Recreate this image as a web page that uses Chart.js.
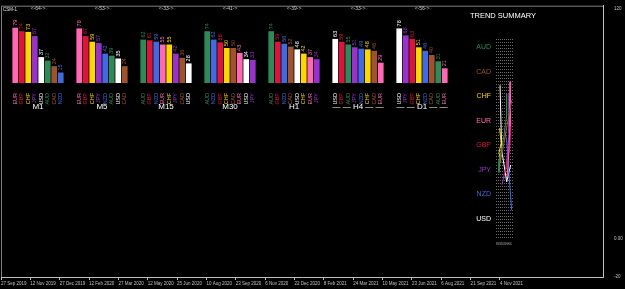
<!DOCTYPE html>
<html>
<head>
<meta charset="utf-8">
<script src="https://cdn.jsdelivr.net/npm/chart.js@4.4.0/dist/chart.umd.min.js"></script>
<style>
html, body { margin:0; padding:0; background:#000; overflow:hidden; }
#wrap { position:relative; width:625px; height:289px; background:#000; }
#wrap canvas { position:absolute; }
</style>
</head>
<body>
<div id="wrap">
  <canvas id="main" width="625" height="289" style="left:0;top:0"></canvas>
  <canvas id="trend" width="90" height="240" style="left:458px;top:6px"></canvas>
</div>
<script>
// date axis + price axis of the window
var dates = ['27 Sep 2019','12 Nov 2019','27 Dec 2019','12 Feb 2020','27 Mar 2020','12 May 2020','25 Jun 2020','10 Aug 2020','23 Sep 2020','6 Nov 2020','22 Dec 2020','8 Feb 2021','24 Mar 2021','10 May 2021','23 Jun 2021','6 Aug 2021','21 Sep 2021','4 Nov 2021']
var priceTicks = [120, 0, -20]
var priceTickText = ['120', '0.00', '-20']

// one bar group per timeframe
var frames = ['M1','M5','M15','M30','H1','— — H4 — —','— — D1 — —']
var counts = ['<-64->','<-53->','<-33->','<-41->','<-39->','<-33->','<-56->']

var m1Cur = ['EUR','GBP','CHF','JPY','USD','AUD','CAD','NZD']
var m1Val = [79, 74, 73, 67, 37, 32, 24, 15]
var m5Cur = ['EUR','GBP','CHF','JPY','NZD','AUD','USD','CAD']
var m5Val = [78, 67, 59, 57, 42, 39, 35, 24]
var m15Cur = ['AUD','GBP','NZD','EUR','CHF','JPY','CAD','USD']
var m15Val = [62, 61, 59, 55, 55, 42, 36, 28]
var m30Cur = ['AUD','NZD','GBP','CHF','CAD','EUR','USD','JPY']
var m30Val = [74, 62, 58, 50, 50, 43, 34, 33]
var h1Cur = ['AUD','GBP','NZD','CAD','USD','CHF','EUR','JPY']
var h1Val = [74, 59, 56, 52, 48, 42, 37, 34]
var h4Cur = ['USD','GBP','AUD','JPY','NZD','CHF','CAD','EUR']
var h4Val = [63, 59, 55, 51, 49, 48, 46, 29]
var d1Cur = ['USD','JPY','GBP','CHF','NZD','CAD','AUD','EUR']
var d1Val = [78, 68, 63, 51, 46, 40, 31, 21]

// trend summary lines [x, y]
var trendCur = ['AUD','CAD','CHF','EUR','GBP','JPY','NZD','USD']
var trendAUD = [[5.35,1.9],[5.3,2.8],[4,3.6],[1.7,4.6],[1.5,5.1]]
var trendCAD = [[7.85,2.16],[5.5,3.2],[3.65,4.06],[1.15,5.07]]
var trendCHF = [[1.8,3.3],[2.6,3.9],[1.5,4.3],[2.5,4.7]]
var trendEUR = [[7.35,1.41],[7,3.2],[6.2,4.6],[5.5,5.3]]
var trendGBP = [[7.5,3],[7,4],[5.5,4.8],[4,5.2]]
var trendJPY = [[6.8,1.9],[6.5,3.5],[5.2,4.8],[3,5.6]]
var trendNZD = [[4,3.3],[5.35,3.78],[6.5,5.2],[7.85,6.63]]
var trendUSD = [[2,1.55],[2.85,4.19],[5.35,5.48],[7.35,4.8]]

var colors = {EUR:'#ff69b4', GBP:'#dc143c', CHF:'#ffd700', JPY:'#9932cc', USD:'#ffffff', AUD:'#2e8b57', CAD:'#a0522d', NZD:'#4169e1'}
var fam = '"Liberation Sans", Arial, sans-serif'
Chart.defaults.font.family = fam

var wrap = document.getElementById('wrap')

// frame + window label
var frame = {
  id: 'frame',
  afterDraw: function (chart) {
    var a = chart.chartArea
    var ctx = chart.ctx
    ctx.save()
    ctx.strokeStyle = '#808080'
    ctx.lineWidth = 1
    ctx.beginPath()
    ctx.moveTo(a.left + 0.5, a.bottom)
    ctx.lineTo(a.left + 0.5, a.top + 0.5)
    ctx.lineTo(a.right, a.top + 0.5)
    ctx.stroke()
    ctx.fillStyle = '#e0e0e0'
    ctx.font = '4.5px ' + fam
    ctx.textBaseline = 'top'
    ctx.fillText('CSM-1', a.left + 2, a.top + 2)
    ctx.restore()
  }
}

new Chart(document.getElementById('main'), {
  type: 'line',
  data: { datasets: [] },
  options: {
    responsive: false,
    animation: false,
    events: [],
    layout: { padding: { left: 1, top: 1, right: 0, bottom: 0 } },
    plugins: { legend: { display: false }, tooltip: { enabled: false } },
    scales: {
      x: {
        type: 'linear', position: 'bottom', min: 0, max: 20.51,
        afterBuildTicks: function (s) { s.ticks = dates.map(function (d, k) { return { value: k } }) },
        ticks: { callback: function (v) { return dates[v] }, color: '#c0c0c0', font: { size: 4.5 }, align: 'start', maxRotation: 0, autoSkip: false, padding: 1 },
        grid: { drawOnChartArea: false, tickLength: 3, color: '#c0c0c0' },
        border: { color: '#c0c0c0' },
        afterFit: function (s) { s.height = 12; s.paddingLeft = 0; s.paddingRight = 0 }
      },
      y: {
        type: 'linear', position: 'right', min: -20, max: 121.5,
        afterBuildTicks: function (s) { s.ticks = priceTicks.map(function (v) { return { value: v } }) },
        ticks: { callback: function (v, k) { return priceTickText[k] }, color: '#c0c0c0', font: { size: 4.5 }, padding: 3 },
        grid: { display: false },
        border: { display: true, color: '#c0c0c0' },
        afterFit: function (s) { s.width = 22 }
      }
    }
  },
  plugins: [frame]
})

// value text on top of every bar
var barValues = {
  id: 'barValues',
  afterDatasetsDraw: function (chart) {
    var ctx = chart.ctx
    var meta = chart.getDatasetMeta(0)
    ctx.save()
    ctx.font = '5.5px ' + fam
    ctx.textAlign = 'left'
    ctx.textBaseline = 'middle'
    meta.data.forEach(function (bar, k) {
      ctx.save()
      ctx.translate(bar.x, bar.y - 2)
      ctx.rotate(-Math.PI / 2)
      ctx.fillStyle = colors[chart.data.labels[k]]
      ctx.fillText(chart.data.datasets[0].data[k], 0, 0)
      ctx.restore()
    })
    ctx.restore()
  }
}

var groupLeft = [12, 76, 140, 204, 268, 332, 396]

function group(i, cur, val) {
  var cv = document.createElement('canvas')
  cv.width = 52
  cv.height = 112
  cv.style.left = groupLeft[i] + 'px'
  cv.style.top = '0px'
  wrap.appendChild(cv)
  new Chart(cv, {
    type: 'bar',
    data: {
      labels: cur,
      datasets: [{ data: val, backgroundColor: cur.map(function (c) { return colors[c] }), barPercentage: 0.88, categoryPercentage: 1 }]
    },
    options: {
      responsive: false,
      animation: false,
      events: [],
      layout: { padding: 0 },
      plugins: {
        legend: { display: false },
        tooltip: { enabled: false },
        title: { display: true, text: counts[i], color: '#c8c8c8', font: { size: 5, weight: 'normal' }, padding: { top: 6, bottom: 1 } }
      },
      scales: {
        x: {
          grid: { display: false },
          border: { display: false },
          ticks: { color: function (c) { return colors[cur[c.index]] }, font: { size: 5.5 }, minRotation: 90, maxRotation: 90, autoSkip: false, padding: 2 },
          title: { display: true, text: frames[i], color: '#ffffff', font: { size: 8 }, padding: 0 },
          afterFit: function (s) { s.height = 29; s.paddingLeft = 0; s.paddingRight = 0 }
        },
        y: { display: false, min: 0, max: 100 }
      }
    },
    plugins: [barValues]
  })
}

group(0, m1Cur, m1Val)
group(1, m5Cur, m5Val)
group(2, m15Cur, m15Val)
group(3, m30Cur, m30Val)
group(4, h1Cur, h1Val)
group(5, h4Cur, h4Val)
group(6, d1Cur, d1Val)

// trend summary
var trendData = { AUD: trendAUD, CAD: trendCAD, CHF: trendCHF, EUR: trendEUR, GBP: trendGBP, JPY: trendJPY, NZD: trendNZD, USD: trendUSD }

new Chart(document.getElementById('trend'), {
  type: 'scatter',
  data: {
    datasets: trendCur.map(function (c) {
      return {
        data: trendData[c].map(function (p) { return { x: p[0], y: p[1] } }),
        borderColor: colors[c], borderWidth: 1, pointRadius: 0, showLine: true
      }
    })
  },
  options: {
    responsive: false,
    animation: false,
    events: [],
    layout: { padding: 0 },
    plugins: {
      legend: { display: false },
      tooltip: { enabled: false },
      title: { display: true, text: 'TREND SUMMARY', color: '#ffffff', font: { size: 7.5, weight: 'normal' }, padding: { top: 5.5, bottom: 18.5 } }
    },
    scales: {
      x: {
        type: 'linear', min: 0, max: 8,
        ticks: { display: false, stepSize: 1 },
        grid: { color: '#6a6a6a', drawTicks: false },
        border: { display: false, dash: [1, 2] },
        title: { display: true, text: 'M1M5M15M30H1H4D1', color: '#b0b0b0', font: { size: 3 }, padding: 0 },
        afterFit: function (s) { s.height = 6 }
      },
      y: {
        type: 'linear', reverse: true, min: -0.33, max: 7.85,
        afterBuildTicks: function (s) { s.ticks = trendCur.map(function (c, k) { return { value: k } }) },
        ticks: { callback: function (v) { return trendCur[v] }, color: function (c) { return colors[trendCur[c.tick.value]] }, font: { size: 7 }, crossAlign: 'near', padding: -3 },
        grid: { display: false },
        border: { display: false },
        afterFit: function (s) { s.width = 38 }
      },
      y2: {
        position: 'right',
        ticks: { display: false },
        grid: { display: false },
        border: { display: false },
        afterFit: function (s) { s.width = 36 }
      }
    }
  }
})
</script>
</body>
</html>
